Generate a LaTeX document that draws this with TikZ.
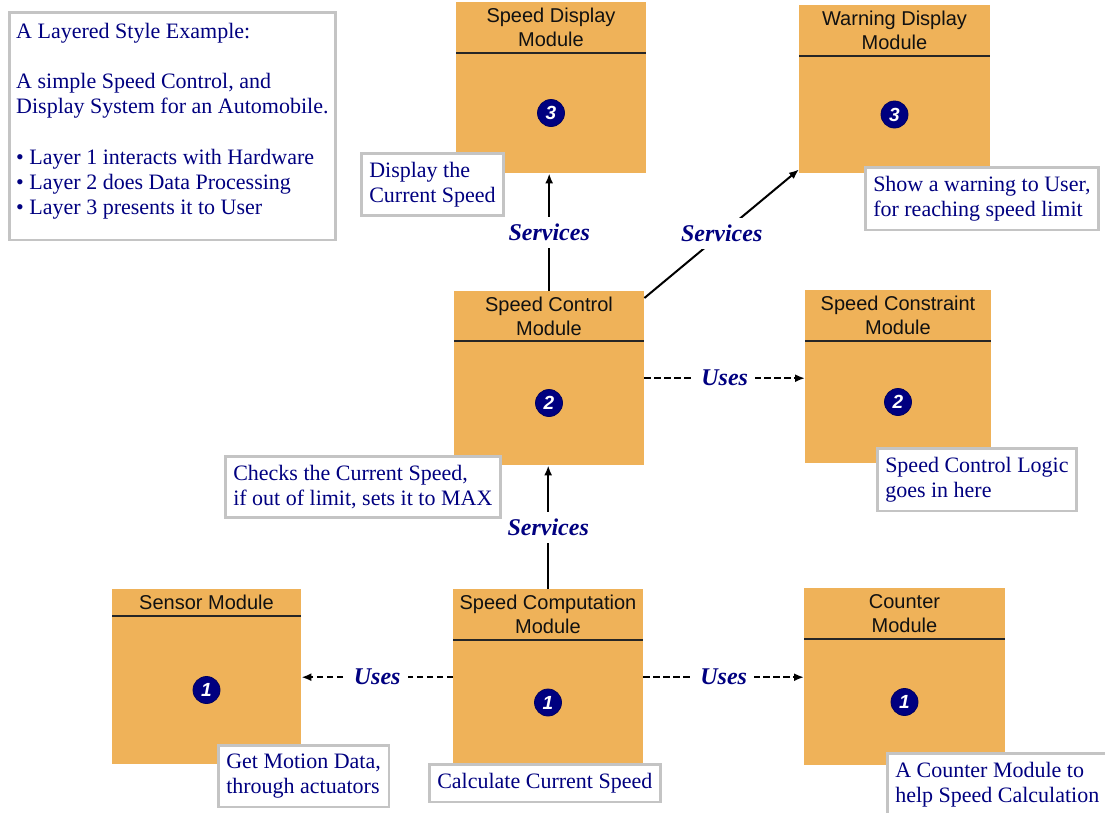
\documentclass[tikz,border=0pt]{standalone}
\usepackage{fontspec}
\setmainfont{Liberation Serif}
\newfontfamily\modfont{Liberation Sans}
\usetikzlibrary{arrows.meta,calc}

\definecolor{modfill}{HTML}{EFB259}
\definecolor{navyink}{HTML}{000080}
\definecolor{noteline}{HTML}{C4C4C4}
\definecolor{titleink}{HTML}{111111}

\tikzset{
  module/.style={fill=modfill, draw=none, anchor=north west, inner sep=0pt},
  headline/.style={line width=1.5pt, draw=black!85},
  modtitle/.style={font=\modfont\fontsize{20}{24}\selectfont, text=titleink,
    align=center, inner sep=0pt},
  badge/.style={circle, fill=navyink, draw=navyink!75!black, line width=0.8pt,
    minimum size=27pt, inner sep=0pt, text=white,
    font=\modfont\bfseries\itshape\fontsize{19}{19}\selectfont},
  note/.style={draw=noteline, line width=2.5pt, fill=white, anchor=north west,
    align=left, inner xsep=8pt, inner ysep=9pt, text=navyink,
    font=\fontsize{22}{24.5}\selectfont},
  link/.style={line width=2pt, -{Latex[length=10pt,width=8pt]}},
  uses/.style={link, line width=2.3pt, dash pattern=on 6.5pt off 3.5pt},
  lbl/.style={fill=white, inner xsep=7pt, inner ysep=7pt, text=navyink,
    font=\bfseries\itshape\fontsize{24}{24}\selectfont},
}

% module: name, left, top, right, bottom, header rule, title, layer number
\newcommand\drawmodule[8]{%
  \node[module, minimum width={#4-#2}, minimum height={#5-#3}] (#1) at (#2,#3) {};
  \draw[headline] (#2,#6) -- (#4,#6);
  \node[modtitle] (#1-title) at ({(#2+#4)/2},{(#3+#6)/2}) {#7};
  \node[badge] (#1-num) at ({(#2+#4)/2},{(#6+#5)/2}) {#8};
}

\begin{document}
\begin{tikzpicture}[x=1pt, y=-1pt]
  \useasboundingbox (0,0) rectangle (1105,812);

  % layer 3
  \drawmodule{disp}{456}{2}{646}{173}{53}{Speed Display\\Module}{3}
  \drawmodule{warn}{799}{5}{990}{173}{56}{Warning Display\\Module}{3}
  % layer 2
  \drawmodule{ctrl}{454}{291}{644}{465}{341}{Speed Control\\Module}{2}
  \drawmodule{cons}{805}{290}{991}{463}{341}{Speed Constraint\\Module}{2}
  % layer 1
  \drawmodule{sens}{112}{589}{301}{764}{616}{Sensor Module}{1}
  \drawmodule{comp}{453}{589}{643}{765}{640}{Speed Computation\\Module}{1}
  \drawmodule{cnt}{804}{588}{1005}{765}{639}{Counter\\Module}{1}

  % services between layers
  \draw[link] (ctrl.north) -- node[lbl] {Services} (ctrl.north |- disp.south);
  \draw[link] ($(ctrl.north east)+(0,7)$) -- node[lbl] {Services}
    ($(warn.south west)+(0,-4)$);
  \draw[link] (comp.north) -- node[lbl] {Services} (comp.north |- ctrl.south);

  % uses within a layer
  \draw[uses] (ctrl.east) -- node[lbl] {Uses} (cons.west |- ctrl.east);
  \draw[uses] (comp.west) -- node[lbl] {Uses} (sens.east |- comp.west);
  \draw[uses] (comp.east) -- node[lbl] {Uses} (cnt.west |- comp.east);

  % notes
  \node[note, inner xsep=7pt, inner ysep=10.5pt, font=\fontsize{22}{25.2}\selectfont]
    (intro) at (8,11) {A Layered Style Example:\\[25.2pt]
      A simple Speed Control, and\\
      Display System for an Automobile.\\[25.2pt]
      • Layer 1 interacts with Hardware\\
      • Layer 2 does Data Processing\\
      • Layer 3 presents it to User\\[-10pt]\mbox{}};
  \node[note] (disp-note) at (360,152) {Display the\\Current Speed};
  \node[note] (warn-note) at (864,166) {Show a warning to User,\\for reaching speed limit};
  \node[note] (ctrl-note) at (224,455) {Checks the Current Speed,\\if out of limit, sets it to MAX};
  \node[note] (cons-note) at (876,447) {Speed Control Logic\\goes in here};
  \node[note] (sens-note) at (217,744) {Get Motion Data,\\through actuators};
  \node[note] (comp-note) at (428,763) {Calculate Current Speed};
  \node[note] (cnt-note) at (886,752) {A Counter Module to\\help Speed Calculation};
\end{tikzpicture}
\end{document}
